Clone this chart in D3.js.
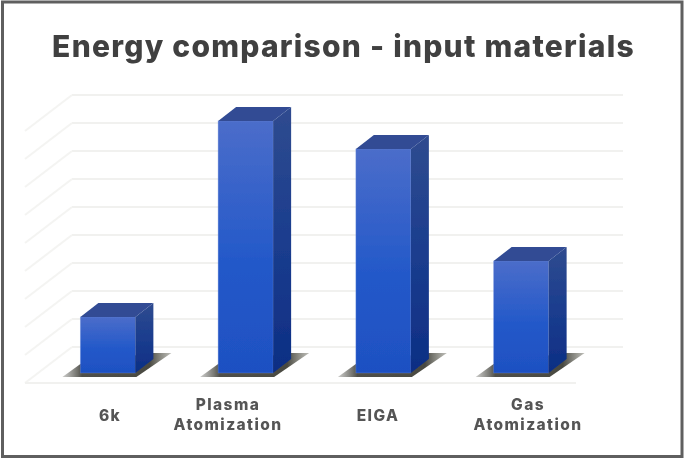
<!DOCTYPE html>
<html>
<head>
<meta charset="utf-8">
<script src="https://cdn.jsdelivr.net/npm/d3@7"></script>
<style>
    html, body { margin: 0; padding: 0; background: #fff; }
    svg { display: block; }
    text { font-family: Inter, "Noto Sans", sans-serif; font-weight: 800; }
</style>
</head>
<body>
<script>
// values (no axis labels in the original, so in grid steps)
var categories = ["6k", "Plasma Atomization", "EIGA", "Gas Atomization"];
var values = [2, 9, 8, 4];
var gridTicks = [1, 2, 3, 4, 5, 6, 7, 8, 9];
var labelLines = [["6k"], ["Plasma", "Atomization"], ["EIGA"], ["Gas", "Atomization"]];
var titleText = "Energy comparison - input materials";

var w = 684,
    h = 459;

var barW = 55,
    barDX = 18,   // bar depth
    barDY = 14,
    wallDX = 23,  // bar plane to back wall
    wallDY = 26,
    floorDY = 10; // bar plane to front edge of floor

var x = d3.scaleBand().domain(categories).range([48, 599]);
var y = d3.scaleLinear().domain([0, 9]).range([373, 121]);

// labels are not centred under the bars in the original
var labelX = d3.scaleOrdinal().domain(categories).range([110, 228, 378, 528]);

var svg = d3.select("body")
    .append("svg")
    .attr("width", w)
    .attr("height", h);

var defs = svg.append("defs");

function gradient(id, stops, horizontal) {
    var g = defs.append("linearGradient")
        .attr("id", id)
        .attr("x1", 0).attr("y1", 0)
        .attr("x2", horizontal ? 1 : 0).attr("y2", horizontal ? 0 : 1);
    stops.forEach(function(s) {
        g.append("stop").attr("offset", s[0]).attr("stop-color", s[1]).attr("stop-opacity", s[2] === undefined ? 1 : s[2]);
    });
}
gradient("front", [[0, "#4b6dca"], [0.55, "#2459c9"], [1, "#1e50c2"]]);
gradient("side", [[0, "#2f4b8f"], [0.5, "#1b3d8e"], [1, "#0d2e84"]]);
gradient("shadow", [[0, "#6e6e68", 0.35], [0.18, "#4f4f49"], [0.8, "#4a4a42"], [1, "#6e6e62", 0.45]], true);

defs.append("filter").attr("id", "soft")
    .attr("x", "-5%").attr("y", "-5%").attr("width", "110%").attr("height", "110%")
    .append("feGaussianBlur").attr("stdDeviation", 0.55);

var root = svg.append("g").attr("filter", "url(#soft)");

// frame
root.append("rect")
    .attr("x", 2.5).attr("y", 2)
    .attr("width", w - 4.5).attr("height", h - 4.5)
    .attr("fill", "#fff")
    .attr("stroke", "#5f5f5f")
    .attr("stroke-width", 3);

root.append("text")
    .attr("x", 343.5)
    .attr("y", 57)
    .attr("text-anchor", "middle")
    .attr("font-size", 30)
    .attr("letter-spacing", 1.25)
    .attr("fill", "#404040")
    .text(titleText);

// back wall grid + side wall lines
var grid = root.append("g").attr("fill", "none").attr("stroke-width", 2);
var x0 = x.range()[0],
    x1 = x.range()[1];

grid.selectAll(".wall")
    .data([0].concat(gridTicks))
    .enter()
    .append("line")
    .attr("class", "wall")
    .attr("x1", x0 + wallDX + 1)
    .attr("x2", x1 + wallDX + 1)
    .attr("y1", function(d) { return y(d) - wallDY; })
    .attr("y2", function(d) { return y(d) - wallDY; })
    .attr("stroke", "#f1f1ef");

grid.selectAll(".side")
    .data([0].concat(gridTicks))
    .enter()
    .append("line")
    .attr("class", "side")
    .attr("x1", x0 + wallDX + 1)
    .attr("x2", x0 - wallDX)
    .attr("y1", function(d) { return y(d) - wallDY; })
    .attr("y2", function(d) { return y(d) + floorDY; })
    .attr("stroke", "#f4f4f2");

grid.append("line")
    .attr("x1", x0 - wallDX).attr("x2", x1 - wallDX)
    .attr("y1", y(0) + floorDY).attr("y2", y(0) + floorDY)
    .attr("stroke", "#f1f1ef");

// bars
var rows = categories.map(function(c, i) { return { cat: c, val: values[i], lines: labelLines[i] }; });

function left(d) {
    return x(d.cat) + x.bandwidth() / 2 - (barW + barDX) / 2;
}

var bars = root.selectAll(".bar")
    .data(rows)
    .enter()
    .append("g")
    .attr("class", "bar");

bars.append("path")
    .attr("fill", "url(#shadow)")
    .attr("d", function(d) {
        var l = left(d), b = y(0);
        return "M" + (l - 18) + "," + (b + 4) +
            "L" + (l + barW + 1) + "," + (b + 4) +
            "L" + (l + barW + barDX + 18) + "," + (b - 20) +
            "L" + (l + barW + barDX - 3) + "," + (b - 20) +
            "L" + l + "," + (b - 9) + "Z";
    });

bars.append("rect")
    .attr("x", left)
    .attr("y", function(d) { return y(d.val); })
    .attr("width", barW)
    .attr("height", function(d) { return y(0) - y(d.val); })
    .attr("fill", "url(#front)")
    .attr("stroke", "#6f8fdc")
    .attr("stroke-opacity", 0.45)
    .attr("stroke-width", 0.8);

bars.append("path")
    .attr("fill", "url(#side)")
    .attr("d", function(d) {
        var r = left(d) + barW;
        return "M" + r + "," + y(d.val) +
            "L" + (r + barDX) + "," + (y(d.val) - barDY) +
            "L" + (r + barDX) + "," + (y(0) - barDY) +
            "L" + r + "," + y(0) + "Z";
    });

bars.append("path")
    .attr("fill", "#304b94")
    .attr("d", function(d) {
        var l = left(d);
        return "M" + l + "," + y(d.val) +
            "L" + (l + barDX) + "," + (y(d.val) - barDY) +
            "L" + (l + barW + barDX) + "," + (y(d.val) - barDY) +
            "L" + (l + barW) + "," + y(d.val) + "Z";
    });

// category labels, one or two lines
var labels = root.selectAll(".label")
    .data(rows)
    .enter()
    .append("text")
    .attr("class", "label")
    .attr("text-anchor", "middle")
    .attr("font-size", 15.5)
    .attr("letter-spacing", 1.4)
    .attr("fill", "#555555");

labels.selectAll("tspan")
    .data(function(d) {
        return d.lines.map(function(t, i) {
            return { text: t, cat: d.cat, dy: d.lines.length === 1 ? 421 : 410 + i * 20 };
        });
    })
    .enter()
    .append("tspan")
    .attr("x", function(d) { return labelX(d.cat); })
    .attr("y", function(d) { return d.dy; })
    .text(function(d) { return d.text; });
</script>
</body>
</html>
